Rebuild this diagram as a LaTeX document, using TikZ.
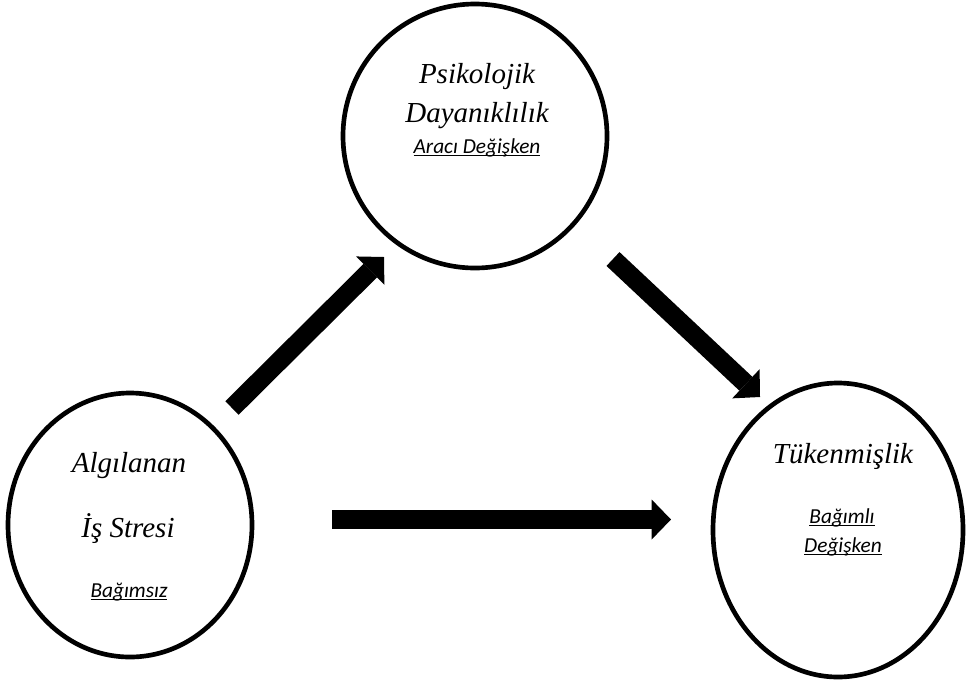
\documentclass[tikz,border=0pt]{standalone}
\usepackage{fontspec}
\setmainfont{Liberation Serif}
\newfontfamily\notefont{Carlito}
\usetikzlibrary{shapes.geometric, arrows.meta}
\newcommand{\undl}[1]{\underline{\smash{#1}}}

\begin{document}
\begin{tikzpicture}[x=0.75pt, y=-0.75pt,
  var/.style={draw, ellipse, line width=3.5pt, inner sep=0pt},
  big/.style={anchor=base, font=\fontsize{21.75}{26}\selectfont\itshape},
  small/.style={anchor=base, font=\notefont\fontsize{16}{19}\selectfont\itshape},
  blockarrow/.style={line width=14.25pt, -{Triangle[width=30pt, length=14.5pt, line width=0pt]}}]
\useasboundingbox (0,0) rectangle (966,679);
% the three variables
\node[var, minimum width=198pt, minimum height=198pt] (resil) at (475,136) {};
\node[var, minimum width=183pt, minimum height=198pt] (stress) at (130,525) {};
\node[var, minimum width=187.5pt, minimum height=220.5pt] (burn) at (838,530) {};
\node[big] (resilA) at (477,83) {Psikolojik};
\node[big] (resilB) at (477,122) {Dayanıklılık};
\node[small] (resilC) at (477,153) {\undl{Aracı Değişken}};
\node[big] (stressA) at (129,472) {Algılanan};
\node[big] (stressB) at (128,537) {İş Stresi};
\node[small] (stressC) at (129,597) {\undl{Bağımsız}};
\node[big] (burnA) at (843,463) {Tükenmişlik};
\node[small] (burnB) at (842,523) {\undl{Bağımlı}};
\node[small] (burnC) at (843,552) {\undl{Değişken}};
% block arrows
\coordinate (sr) at (232,408); \coordinate (rs) at (384,257);
\coordinate (rb) at (613,259); \coordinate (br) at (760,397);
\coordinate (sb) at (332,519.5); \coordinate (bs) at (671,519.5);
\draw[blockarrow] (sr) -- (rs);
\draw[blockarrow] (rb) -- (br);
\draw[blockarrow] (sb) -- (bs);
\end{tikzpicture}
\end{document}
